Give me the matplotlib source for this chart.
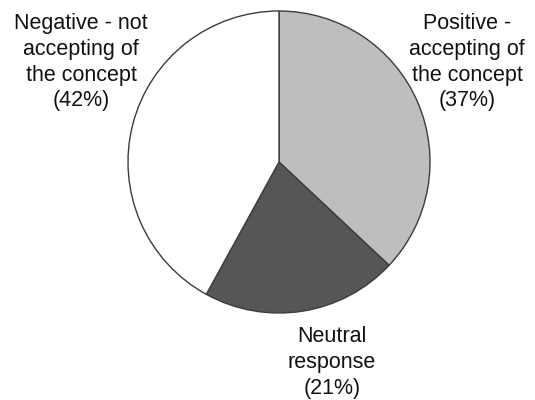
import matplotlib
matplotlib.use("Agg")
import matplotlib.pyplot as plt

categories = ["Positive -\naccepting of\nthe concept", "Neutral\nresponse", "Negative - not\naccepting of\nthe concept"]
values = [37, 21, 42]
colors = ["#bebebe", "#565656", "#ffffff"]

W, H = 535, 400
fig = plt.figure(figsize=(W / 100, H / 100), dpi=100)
plt.rcParams['font.family'] = ['Liberation Sans', 'DejaVu Sans']

cx, cy, r = 279, 162, 151
ax = fig.add_axes([(cx - r) / W, (H - cy - r) / H, 2 * r / W, 2 * r / H])
ax.pie(values, colors=colors, startangle=90, counterclock=False,
       wedgeprops=dict(edgecolor="#3c3c3c", linewidth=1.0))
ax.set_xlim(-1, 1)
ax.set_ylim(-1, 1)
ax.set_aspect('equal')
ax.axis('off')

labels = [f"{c}\n({v}%)" for c, v in zip(categories, values)]
pos = [(467, 13), (332, 326), (81, 13)]
for lab, (x, y) in zip(labels, pos):
    fig.text(x / W, 1 - y / H, lab, ha='center', va='top', multialignment='center',
             fontsize=15.5, color='#111111', linespacing=1.3)

fig.savefig("out.png", dpi=100, facecolor='white')
